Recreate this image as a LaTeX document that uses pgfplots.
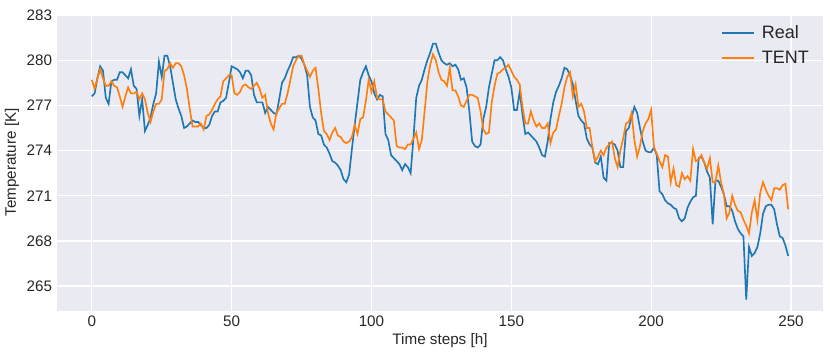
\documentclass[border=0pt]{standalone}
\usepackage{fontspec}
\setmainfont{Liberation Sans}
\usepackage{pgfplots}
\usepackage{pgfplotstable}
\pgfplotsset{compat=1.18}

\definecolor{sbbg}{HTML}{EAEAF2}
\definecolor{tabblue}{HTML}{1F77B4}
\definecolor{taborange}{HTML}{FF7F0E}
\definecolor{txtgray}{HTML}{262626}

% hourly temperature, real vs. TENT prediction
\pgfplotstableread{
t real tent
0 277.6 278.7
1 277.8 278.1
2 278.8 278.8
3 279.6 279.4
4 279.3 278.8
5 277.5 278.3
6 277.1 278.3
7 278.6 278.6
8 278.7 278.3
9 278.7 278.2
10 279.2 277.6
11 279.2 276.9
12 279.0 277.6
13 278.8 278.2
14 279.4 277.8
15 278.3 277.8
16 278.1 277.9
17 276.3 277.4
18 277.4 277.8
19 275.3 277.4
20 275.7 276.5
21 276.2 275.9
22 277.1 276.6
23 277.8 277.1
24 279.9 277.1
25 278.9 277.4
26 280.3 279.3
27 280.3 279.4
28 279.6 279.8
29 278.5 279.5
30 277.4 279.8
31 276.8 279.8
32 276.3 279.6
33 275.5 279.0
34 275.6 278.1
35 275.8 276.8
36 276.0 275.6
37 275.9 275.6
38 275.9 275.6
39 275.7 275.8
40 275.5 275.4
41 275.5 276.3
42 275.7 276.4
43 276.3 276.7
44 276.6 277.1
45 276.6 277.4
46 277.2 277.6
47 277.3 278.6
48 277.5 278.8
49 278.5 279.0
50 279.6 279.0
51 279.5 277.8
52 279.4 277.7
53 279.2 277.9
54 278.8 278.3
55 279.3 278.4
56 279.3 278.2
57 279.0 278.1
58 277.7 278.3
59 277.2 278.5
60 277.2 278.1
61 277.2 277.5
62 276.5 277.7
63 276.9 276.5
64 276.7 275.8
65 276.5 275.4
66 276.4 276.5
67 277.4 276.8
68 278.5 277.1
69 278.8 277.1
70 279.3 277.8
71 279.7 278.7
72 280.2 279.6
73 280.2 280.0
74 280.3 280.3
75 280.1 280.3
76 279.7 279.7
77 279.0 279.3
78 276.9 278.9
79 276.2 279.3
80 276.0 279.5
81 275.1 278.1
82 275.0 276.5
83 274.4 275.3
84 274.2 275.1
85 273.8 274.7
86 273.3 275.2
87 273.2 275.5
88 273.0 275.0
89 272.7 274.9
90 272.1 274.6
91 271.9 274.5
92 272.4 274.6
93 274.1 274.9
94 275.7 275.7
95 277.2 275.1
96 278.7 276.1
97 279.2 276.2
98 279.6 277.3
99 279.0 278.7
100 278.6 277.9
101 277.8 278.6
102 277.4 277.5
103 277.7 277.4
104 277.6 277.4
105 275.1 276.6
106 274.7 276.4
107 273.7 276.2
108 273.5 276.0
109 273.3 274.3
110 273.1 274.2
111 272.7 274.2
112 273.1 274.1
113 272.9 274.4
114 272.5 274.4
115 274.8 274.8
116 277.5 275.2
117 278.3 274.1
118 278.7 274.7
119 279.4 276.6
120 280.0 278.6
121 280.5 279.7
122 281.1 280.4
123 281.1 280.0
124 280.5 279.2
125 280.0 278.7
126 279.8 278.6
127 279.7 278.3
128 279.8 279.5
129 279.6 278.0
130 279.7 278.0
131 279.4 277.6
132 278.7 277.0
133 278.8 276.9
134 278.2 277.3
135 276.6 277.7
136 274.6 277.7
137 274.3 277.6
138 274.2 277.5
139 274.4 276.6
140 276.1 275.4
141 276.9 275.1
142 278.2 275.2
143 279.1 277.2
144 280.0 278.3
145 280.0 279.1
146 280.2 279.2
147 280.0 279.4
148 279.4 279.5
149 278.9 279.7
150 278.2 279.3
151 276.7 278.9
152 276.7 278.7
153 277.9 278.4
154 276.4 276.9
155 275.1 275.8
156 275.2 275.8
157 275.0 276.6
158 274.8 276.0
159 274.6 275.6
160 274.2 275.8
161 273.7 275.5
162 273.6 275.5
163 274.6 275.8
164 276.1 274.5
165 277.2 275.2
166 277.9 275.4
167 278.3 276.3
168 278.8 277.1
169 279.5 278.2
170 279.4 278.9
171 279.0 279.2
172 278.4 277.6
173 277.3 278.4
174 276.3 276.9
175 276.0 277.1
176 275.8 276.6
177 274.8 275.5
178 274.4 275.5
179 274.2 274.2
180 273.2 273.3
181 273.1 273.6
182 273.6 274.0
183 272.2 273.7
184 272.0 274.2
185 274.5 274.4
186 274.5 274.6
187 274.4 273.5
188 274.0 272.9
189 272.9 274.0
190 272.9 274.8
191 275.3 275.8
192 275.5 275.9
193 276.2 276.5
194 276.9 274.7
195 276.5 273.6
196 275.5 274.3
197 274.6 275.3
198 274.0 275.8
199 273.9 276.1
200 273.9 276.7
201 274.2 274.2
202 273.7 273.8
203 271.3 273.3
204 271.1 272.9
205 270.7 273.7
206 270.5 273.6
207 270.4 271.9
208 270.2 272.8
209 270.1 271.7
210 269.5 271.6
211 269.3 272.5
212 269.5 272.1
213 270.2 272.3
214 270.6 272.0
215 270.9 274.1
216 271.0 273.3
217 273.5 273.4
218 273.6 273.7
219 273.2 273.2
220 272.6 272.8
221 272.2 273.5
222 269.1 271.9
223 272.0 271.9
224 272.0 273.0
225 271.6 271.9
226 271.1 271.1
227 270.3 269.5
228 270.3 269.9
229 270.0 271.0
230 269.3 270.4
231 268.8 270.0
232 268.5 269.9
233 268.3 269.4
234 264.1 269.0
235 267.6 268.5
236 267.0 269.9
237 267.2 270.7
238 267.6 269.4
239 268.5 271.2
240 269.8 271.9
241 270.3 271.4
242 270.4 271.0
243 270.4 270.7
244 270.1 271.5
245 269.1 271.5
246 268.3 271.4
247 268.2 271.7
248 267.7 271.8
249 267.0 270.1
}\temps

\begin{document}
\begin{tikzpicture}[font=\fontsize{11}{13}\selectfont]
\begin{axis}[
    scale only axis,
    width=553.6pt,
    height=214.6pt,
    xmin=-12.45, xmax=261.45,
    ymin=263.35, ymax=283.07,
    axis background/.style={fill=sbbg},
    axis line style={draw=none},
    major tick length=0pt,
    grid=major,
    major grid style={white, line width=0.9pt},
    xtick={0,50,...,250},
    ytick={265,268,...,283},
    tick label style={font=\fontsize{11}{13}\selectfont, text=txtgray},
    /pgf/number format/assume math mode=true,
    xlabel={Time steps [h]},
    ylabel={Temperature [K]},
    every axis x label/.style={at={(rel axis cs:0.5,0)}, yshift=-21.7pt, anchor=center, text=txtgray},
    every axis y label/.style={at={(rel axis cs:0,0.5)}, xshift=-32.5pt, rotate=90, anchor=center, text=txtgray},
    legend style={draw=none, fill=none, at={(0.991,0.982)}, anchor=north east,
        font=\fontsize{13}{15}\selectfont, text=txtgray, row sep=3.5pt},
    legend cell align=left,
    legend image code/.code={\draw[#1] (0pt,0pt) -- (23pt,0pt); \path (26pt,0pt);},
]
\addplot[tabblue, line width=1.2pt] table[x=t, y=real] {\temps};
\addplot[taborange, line width=1.2pt] table[x=t, y=tent] {\temps};
\legend{Real, TENT}
\end{axis}
\pgfresetboundingbox
\path[use as bounding box] ([xshift=-41.19pt,yshift=-32.52pt]current axis.south west)
    rectangle ([xshift=5.06pt,yshift=10.12pt]current axis.north east);
\end{tikzpicture}
\end{document}
